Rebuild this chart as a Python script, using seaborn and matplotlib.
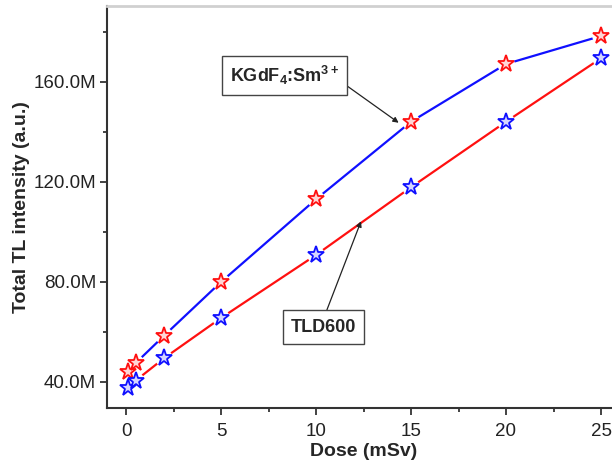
import matplotlib
matplotlib.use("Agg")
import matplotlib.pyplot as plt
from matplotlib.ticker import FuncFormatter, MultipleLocator
import seaborn as sns
import pandas as pd

dose = [0.1, 0.5, 2, 5, 10, 15, 20, 25]
kgdf = [44.1, 47.5, 58.5, 80.0, 113.1, 144.1, 167.2, 178.4]
tld = [37.5, 40.5, 49.5, 65.6, 90.8, 117.9, 144.1, 169.5]
xticks = [0, 5, 10, 15, 20, 25]
yticks = [40, 80, 120, 160]

sns.set_style("ticks")
plt.rcParams['font.family'] = ['Liberation Sans', 'DejaVu Sans']
plt.rcParams['mathtext.fontset'] = 'custom'
plt.rcParams['mathtext.rm'] = 'Liberation Sans'
plt.rcParams['mathtext.bf'] = 'Liberation Sans:bold'

df_k = pd.DataFrame({"dose": dose, "val": kgdf})
df_t = pd.DataFrame({"dose": dose, "val": tld})

fig = plt.figure(figsize=(6.12, 4.63), dpi=100)
ax = fig.add_axes([107 / 612, 55 / 463, 513 / 612, 402 / 463])

# lines
sns.lineplot(data=df_k, x="dose", y="val", color="#1010ff", lw=1.6, ax=ax, zorder=2)
sns.lineplot(data=df_t, x="dose", y="val", color="#ff1010", lw=1.6, ax=ax, zorder=2)
# white halos to create gaps around symbols
for d in (df_k, df_t):
    sns.scatterplot(data=d, x="dose", y="val", marker="o", s=160, color="white",
                    edgecolor="none", ax=ax, zorder=3)
# stars
ax.plot(dose, kgdf, ls="none", marker="*", ms=12.5, mfc="#ffd6d6", mec="#ff1010",
        mew=1.3, zorder=4, clip_on=False)
ax.plot(dose, tld, ls="none", marker="*", ms=12.5, mfc="#d6d6ff", mec="#1010ff",
        mew=1.3, zorder=4, clip_on=False)

ax.set_xlim(-1, 26)
ax.set_ylim(29.6, 190.4)
ax.set_xticks(xticks)
ax.set_yticks(yticks)
ax.xaxis.set_minor_locator(MultipleLocator(2.5))
ax.yaxis.set_minor_locator(MultipleLocator(20))
ax.yaxis.set_major_formatter(FuncFormatter(lambda v, p: f"{v:.1f}M"))
ax.tick_params(axis="both", which="major", direction="out", length=5, width=1.2,
               labelsize=13.5, colors="#222222", pad=3)
ax.tick_params(axis="x", which="major", pad=6)
ax.tick_params(axis="both", which="minor", direction="out", length=3, width=1.2,
               colors="#222222")
for s in ["left", "bottom"]:
    ax.spines[s].set_color("#333333")
    ax.spines[s].set_linewidth(1.5)
ax.spines["top"].set_color("#d0d0d0")
ax.spines["top"].set_linewidth(2)
ax.spines["right"].set_visible(False)

ax.set_xlabel("Dose (mSv)", fontsize=14, fontweight="bold", labelpad=2)
ax.set_ylabel("Total TL intensity (a.u.)", fontsize=14, fontweight="bold", labelpad=2)

bbox = dict(boxstyle="square,pad=0.45", fc="white", ec="#444444", lw=1)
ax.annotate(r"KGdF$_\mathbf{4}$:Sm$^\mathbf{3+}$", xy=(14.35, 143.7), xytext=(8.35, 162.5),
            ha="center", va="center", fontsize=13, fontweight="bold", bbox=bbox,
            arrowprops=dict(arrowstyle="-|>", color="#222222", lw=0.9,
                            mutation_scale=8, shrinkA=0, shrinkB=0,
                            relpos=(1.0, 0.3)))
ax.annotate("TLD600", xy=(12.37, 104.3), xytext=(10.4, 62.0),
            ha="center", va="center", fontsize=13, fontweight="bold", bbox=bbox,
            arrowprops=dict(arrowstyle="-|>", color="#222222", lw=0.9,
                            mutation_scale=8, shrinkA=0, shrinkB=0,
                            relpos=(0.5, 1.0)))

fig.savefig("out.png", dpi=100)
